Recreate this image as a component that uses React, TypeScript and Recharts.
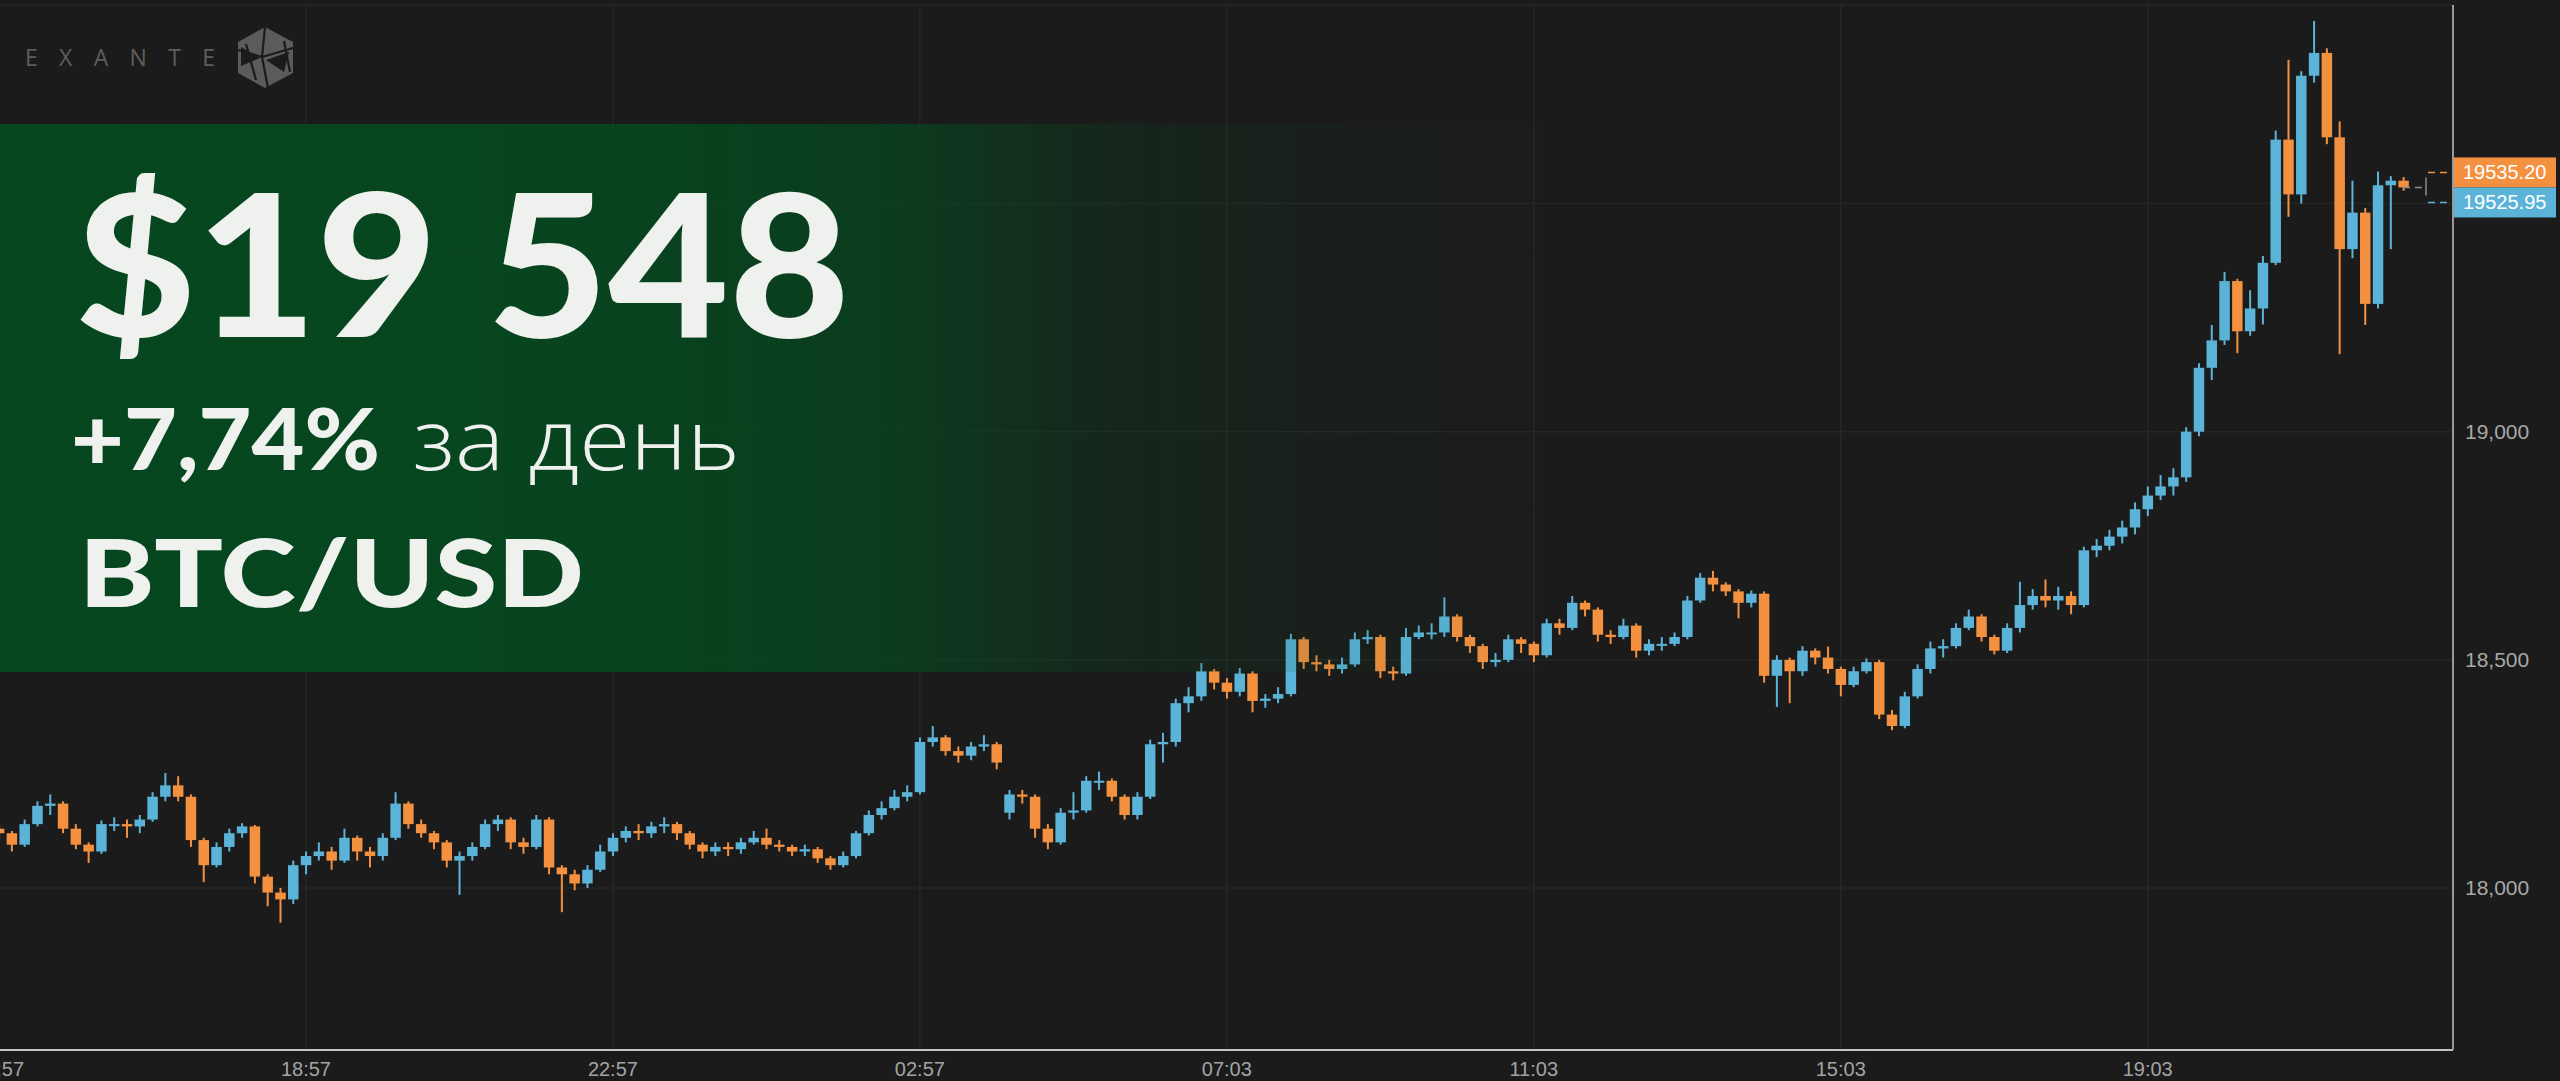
import React from 'react';
import { ComposedChart, Bar, XAxis, YAxis, CartesianGrid, ReferenceLine } from 'recharts';

// 10-minute candles, index 0 = 14:57
const closes = [
  18120, 18095, 18140, 18180, 18185, 18130, 18095, 18080, 18140, 18140,
  18135, 18150, 18200, 18225, 18200, 18105, 18050, 18090, 18120, 18135,
  18025, 17990, 17975, 18050, 18070, 18080, 18060, 18110, 18080, 18070,
  18110, 18185, 18140, 18120, 18100, 18060, 18070, 18090, 18140, 18150,
  18100, 18090, 18150, 18045, 18030, 18010, 18040, 18080, 18110, 18125,
  18120, 18135, 18140, 18120, 18095, 18080, 18090, 18085, 18100, 18110,
  18095, 18090, 18080, 18085, 18065, 18050, 18070, 18120, 18160, 18175,
  18200, 18210, 18320, 18330, 18300, 18290, 18310, 18315, 18275, 18205,
  18200, 18130, 18100, 18165, 18170, 18235, 18235, 18200, 18160, 18200,
  18315, 18320, 18405, 18420, 18475, 18450, 18430, 18470, 18410, 18415,
  18425, 18545, 18495, 18490, 18480, 18490, 18545, 18550, 18475, 18470,
  18550, 18560, 18560, 18595, 18550, 18530, 18495, 18500, 18545, 18535,
  18510, 18580, 18570, 18625, 18610, 18555, 18550, 18575, 18520, 18535,
  18535, 18550, 18630, 18680, 18665, 18650, 18625, 18645, 18465, 18500,
  18475, 18520, 18505, 18480, 18445, 18475, 18495, 18380, 18355, 18420,
  18480, 18525, 18530, 18570, 18595, 18550, 18520, 18570, 18620, 18640,
  18630, 18640, 18620, 18740, 18750, 18770, 18790, 18830, 18860, 18880,
  18900, 19000, 19140, 19200, 19330, 19220, 19270, 19370, 19640, 19520,
  19780, 19830, 19645, 19400, 19480, 19280, 19540, 19550, 19535.2,
];

const highs = [
  18140, 18125, 18150, 18190, 18205, 18190, 18140, 18100, 18148, 18155,
  18150, 18160, 18210, 18252, 18245, 18205, 18110, 18100, 18130, 18142,
  18138, 18030, 18000, 18060, 18080, 18100, 18090, 18130, 18115, 18090,
  18120, 18210, 18190, 18150, 18125, 18105, 18080, 18100, 18150, 18160,
  18155, 18110, 18160, 18155, 18050, 18040, 18050, 18095, 18120, 18135,
  18140, 18145, 18155, 18145, 18125, 18100, 18100, 18100, 18110, 18125,
  18130, 18105, 18095, 18095, 18090, 18070, 18080, 18125, 18170, 18190,
  18215, 18225, 18330, 18355, 18335, 18310, 18320, 18335, 18320, 18215,
  18215, 18205, 18140, 18175, 18210, 18245, 18255, 18240, 18205, 18210,
  18325, 18340, 18415, 18440, 18493, 18480, 18460, 18482, 18475, 18425,
  18440, 18557, 18550, 18510, 18500, 18505, 18560, 18565, 18555, 18485,
  18570, 18575, 18580, 18637, 18600, 18555, 18535, 18515, 18555, 18550,
  18540, 18590, 18590, 18640, 18630, 18615, 18565, 18590, 18580, 18545,
  18550, 18560, 18640, 18690, 18695, 18670, 18655, 18652, 18650, 18510,
  18505, 18530, 18525, 18529, 18485, 18485, 18503, 18500, 18390, 18430,
  18490, 18540, 18545, 18580, 18610, 18600, 18555, 18580, 18671, 18655,
  18676, 18660, 18650, 18748, 18765, 18785, 18805, 18845, 18880, 18905,
  18920, 19010, 19150, 19234, 19350, 19335, 19310, 19385, 19660, 19815,
  19790, 19900, 19840, 19680, 19550, 19490, 19570, 19560, 19558,
];

const lows = [
  18105, 18080, 18090, 18135, 18160, 18120, 18085, 18055, 18075, 18125,
  18110, 18120, 18145, 18190, 18190, 18090, 18013, 18045, 18080, 18110,
  18010, 17960, 17924, 17965, 18030, 18060, 18040, 18055, 18060, 18045,
  18060, 18105, 18130, 18110, 18085, 18045, 17985, 18060, 18085, 18125,
  18085, 18075, 18085, 18030, 17947, 17995, 18000, 18035, 18070, 18100,
  18105, 18110, 18120, 18105, 18085, 18065, 18070, 18070, 18075, 18095,
  18085, 18080, 18070, 18070, 18055, 18040, 18045, 18065, 18115, 18150,
  18170, 18190, 18205, 18310, 18290, 18275, 18280, 18300, 18260, 18150,
  18185, 18110, 18085, 18095, 18150, 18165, 18215, 18190, 18150, 18150,
  18195, 18275, 18310, 18385, 18410, 18435, 18415, 18420, 18385, 18395,
  18405, 18420, 18480, 18475, 18465, 18470, 18485, 18535, 18460, 18455,
  18465, 18545, 18545, 18550, 18540, 18515, 18480, 18485, 18495, 18515,
  18495, 18505, 18555, 18565, 18595, 18540, 18535, 18545, 18505, 18510,
  18520, 18530, 18545, 18625, 18650, 18640, 18591, 18615, 18450, 18397,
  18405, 18465, 18490, 18470, 18420, 18440, 18470, 18370, 18346, 18350,
  18415, 18470, 18505, 18525, 18565, 18540, 18512, 18515, 18560, 18610,
  18615, 18610, 18600, 18615, 18725, 18740, 18755, 18775, 18815, 18850,
  18860, 18890, 18990, 19113, 19190, 19172, 19210, 19235, 19365, 19471,
  19500, 19765, 19630, 19170, 19380, 19234, 19270, 19400, 19528,
];

const firstOpen = 18130;
const openGaps: Record<number, number> = { 79: 18165 };

const tickIndexes = [0, 24, 48, 72, 96, 120, 144, 168];
const tickLabels = ['14:57', '18:57', '22:57', '02:57', '07:03', '11:03', '15:03', '19:03'];
const yTicks = [18000, 18500, 19000, 19500];
const yDomain = [17645, 19935];

const lastPrice = 19535.2;
const secondPrice = 19525.95;

const headlinePrice = '$19 548';
const dayChange = '+7,74%';
const dayChangeSuffix = 'за день';
const pairName = 'BTC/USD';

const BLUE = '#5bb4d8';
const ORANGE = '#f39140';
const BG = '#1b1b1b';

const CHART_W = 2600;
const CHART_H = 1081;
const SHIFT_X = 40;
const Y_AXIS_W = 107;
const PLOT_RIGHT = CHART_W - Y_AXIS_W;
const BODY_W = 10.5;

const data = closes.map((c, i) => ({
  i,
  o: openGaps[i] ?? (i === 0 ? firstOpen : closes[i - 1]),
  c,
  h: highs[i],
  l: lows[i],
}));

const Candle = (props: any) => {
  const { x, y, width, height, payload } = props;
  if (!payload || !isFinite(y)) return null;
  const { o, c, h, l } = payload;
  const top = Math.min(y, y + height);
  const span = Math.abs(height);
  const k = span / (h - l);
  const py = (v: number) => top + (h - v) * k;
  const color = c >= o ? BLUE : ORANGE;
  const cx = x + width / 2;
  const bTop = py(Math.max(o, c));
  const bH = Math.max(2, Math.abs(py(o) - py(c)));
  return (
    <g>
      <rect x={cx - 1} y={top} width={2} height={span} fill={color} />
      <rect x={cx - BODY_W / 2} y={bTop} width={BODY_W} height={bH} fill={color} />
    </g>
  );
};

const PriceTags = (props: any) => {
  const y = props.viewBox?.y;
  if (y == null) return null;
  const r = PLOT_RIGHT;
  const yo = y - 15;
  const yb = y + 15;
  const txt = { fill: '#ffffff', fontSize: 20, fontFamily: 'Liberation Sans, Arial, sans-serif' };
  return (
    <g>
      <line x1={r - 50} x2={r - 27} y1={y} y2={y} stroke="#8c8c8c" strokeWidth={1.5} strokeDasharray="7 5" />
      <line x1={r - 27} x2={r - 27} y1={y - 10} y2={y + 8} stroke="#8c8c8c" strokeWidth={1.5} />
      <line x1={r - 25} x2={r} y1={yo} y2={yo} stroke={ORANGE} strokeWidth={1.5} strokeDasharray="7 5" />
      <line x1={r - 25} x2={r} y1={yb} y2={yb} stroke={BLUE} strokeWidth={1.5} strokeDasharray="7 5" />
      <rect x={r} y={yo - 15} width={103} height={30} fill={ORANGE} />
      <rect x={r} y={yb - 15} width={103} height={30} fill={BLUE} />
      <text x={r + 10} y={yo + 7} {...txt}>{lastPrice.toFixed(2)}</text>
      <text x={r + 10} y={yb + 7} {...txt}>{secondPrice.toFixed(2)}</text>
    </g>
  );
};

const Overlay = () => (
  <svg
    width={2560}
    height={1081}
    style={{ position: 'absolute', left: 0, top: 0, pointerEvents: 'none' }}
  >
    <defs>
      <linearGradient id="banner" x1="0" x2="1" y1="0" y2="0">
        <stop offset="0" stopColor="#06471f" stopOpacity={1} />
        <stop offset="0.3" stopColor="#06471f" stopOpacity={0.97} />
        <stop offset="0.5" stopColor="#06471f" stopOpacity={0.82} />
        <stop offset="0.5625" stopColor="#06471f" stopOpacity={0.73} />
        <stop offset="0.6875" stopColor="#06471f" stopOpacity={0.27} />
        <stop offset="0.83" stopColor="#06471f" stopOpacity={0.09} />
        <stop offset="0.97" stopColor="#06471f" stopOpacity={0} />
      </linearGradient>
    </defs>
    <rect x={0} y={124} width={1600} height={548} fill="url(#banner)" />

    {/* logo */}
    <text
      x={25}
      y={66}
      fill="#5e5e5e"
      fontSize={23}
      fontFamily="Open Sans, sans-serif"
      fontWeight={400}
      textLength={190}
      lengthAdjust="spacing"
    >
      EXANTE
    </text>
    <polygon points="265,27 293,42 293,73 265,88 238,73 238,42" fill="#5b5b5b" />
    <g stroke={BG} strokeWidth={2.2} fill="none">
      <polyline points="265,27 262,57 238,50" />
      <polyline points="262,57 293,48" />
      <polyline points="262,57 268,88" />
      <polyline points="246,44 256,80" />
      <polyline points="284,41 290,72" />
    </g>
    <polygon points="241,47 260,58 241,66" fill={BG} />
    <polygon points="266,60 289,52 284,72" fill={BG} />

    {/* headline */}
    <text
      x={75}
      y={337}
      fill="#eef1ee"
      fontSize={198}
      fontFamily="Lato, sans-serif"
      fontWeight={900}
      textLength={775}
      lengthAdjust="spacingAndGlyphs"
    >
      {headlinePrice}
    </text>
    <text
      x={71}
      y={470}
      fill="#eef1ee"
      fontSize={86}
      fontFamily="Lato, sans-serif"
      fontWeight={900}
      textLength={309}
      lengthAdjust="spacingAndGlyphs"
    >
      {dayChange}
    </text>
    <text
      x={413}
      y={470}
      fill="#eef1ee"
      fontSize={84}
      fontFamily="Open Sans, sans-serif"
      fontWeight={300}
      textLength={327}
      lengthAdjust="spacingAndGlyphs"
    >
      {dayChangeSuffix}
    </text>
    <text
      x={79}
      y={607}
      fill="#eef1ee"
      fontSize={93}
      fontFamily="Lato, sans-serif"
      fontWeight={900}
      textLength={505}
      lengthAdjust="spacingAndGlyphs"
    >
      {pairName}
    </text>
  </svg>
);

export default function App() {
  return (
    <div
      style={{
        position: 'absolute',
        left: 0,
        top: 0,
        width: 2560,
        height: 1081,
        overflow: 'hidden',
        background: BG,
      }}
    >
      <div style={{ position: 'absolute', left: -SHIFT_X, top: 0 }}>
        <ComposedChart
          width={CHART_W}
          height={CHART_H}
          data={data}
          margin={{ top: 5, right: 0, bottom: 0, left: 32.6 }}
          barCategoryGap={0}
        >
          <CartesianGrid stroke="#262626" strokeWidth={1.5} />
          <XAxis
            dataKey="i"
            type="category"
            ticks={tickIndexes}
            interval={0}
            tickFormatter={(v: number) => tickLabels[tickIndexes.indexOf(v)] ?? ''}
            padding={{ left: 0, right: 43.1 }}
            height={31}
            axisLine={{ stroke: '#c4c4c4', strokeWidth: 2 }}
            tickLine={false}
            tickMargin={6}
            tick={{ fill: '#a3a3a3', fontSize: 20, fontFamily: 'Liberation Sans, Arial, sans-serif' }}
          />
          <YAxis
            orientation="right"
            type="number"
            domain={yDomain}
            allowDataOverflow
            ticks={yTicks}
            width={Y_AXIS_W}
            tickFormatter={(v: number) => (v === 19500 ? '' : v.toLocaleString('en-US'))}
            axisLine={{ stroke: '#9a9a9a', strokeWidth: 2 }}
            tickLine={false}
            tickMargin={6}
            tick={{ fill: '#a8a8a8', fontSize: 21, fontFamily: 'Liberation Sans, Arial, sans-serif' }}
          />
          <Bar
            dataKey={(d: any) => [d.l, d.h]}
            shape={(p: any) => <Candle {...p} />}
            isAnimationActive={false}
          />
          <ReferenceLine y={lastPrice} stroke="none" strokeOpacity={0} label={<PriceTags />} />
        </ComposedChart>
      </div>
      <Overlay />
    </div>
  );
}
